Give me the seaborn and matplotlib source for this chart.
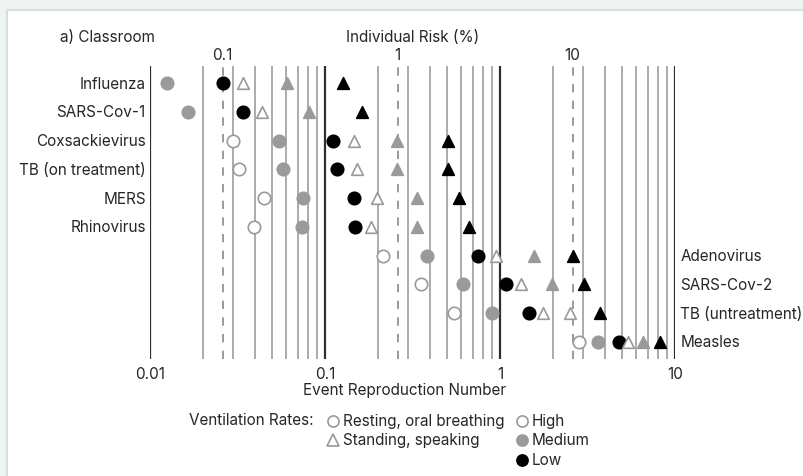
import numpy as np
import pandas as pd
import matplotlib
matplotlib.use("Agg")
import matplotlib.pyplot as plt
import seaborn as sns
from matplotlib.lines import Line2D
from matplotlib.patches import Rectangle
from matplotlib.ticker import NullLocator

sns.set_style("white")
plt.rcParams['font.family'] = ['Inter', 'DejaVu Sans']
plt.rcParams['font.size'] = 11
plt.rcParams['lines.scale_dashes'] = False

pathogens = ["Influenza", "SARS-Cov-1", "Coxsackievirus", "TB (on treatment)", "MERS",
             "Rhinovirus", "Adenovirus", "SARS-Cov-2", "TB (untreatment)", "Measles"]
left_labels = pathogens[:6]
right_labels = pathogens[6:]

# event reproduction number, resting / oral breathing (high, medium, low ventilation)
rest_high = [np.nan, np.nan, 0.0297, 0.0321, 0.0448, 0.0393, 0.215, 0.352, 0.548, 2.83]
rest_medium = [0.0125, 0.0164, 0.0548, 0.0573, 0.0746, 0.0736, 0.381, 0.617, 0.90, 3.61]
rest_low = [0.026, 0.0341, 0.1106, 0.1175, 0.1465, 0.149, 0.746, 1.08, 1.47, 4.81]
# standing / speaking
speak_high = [0.0341, 0.0435, 0.1465, 0.153, 0.199, 0.182, 0.944, 1.31, 1.75, 5.37]
speak_medium = [0.061, 0.0813, 0.258, 0.258, 0.336, 0.336, 1.57, 1.99, 2.51, 6.54]
speak_low = [0.126, 0.162, 0.507, 0.507, 0.581, 0.668, 2.63, 3.03, 3.73, 8.2]

# in the original, this medium point is drawn hollow
hollow_medium = ["TB (untreatment)"]

susceptibles = 26  # ERN = risk * susceptibles
x_ticks = [0.01, 0.1, 1, 10]
risk_ticks = [0.1, 1, 10]

gray = "#9a9a9a"
grid_gray = "#ababab"
dark = "#2e2e2e"

df = pd.DataFrame({"pathogen": pathogens, "row": np.arange(len(pathogens)),
                   "rest_high": rest_high, "rest_medium": rest_medium, "rest_low": rest_low,
                   "speak_high": speak_high, "speak_medium": speak_medium, "speak_low": speak_low})

fig = plt.figure(figsize=(8.04, 4.77), dpi=100)
fig.patch.set_facecolor("#eff4f3")
fig.add_artist(Rectangle((7 / 804, -0.1), 1.2, 1 - 11 / 477 + 0.1, transform=fig.transFigure,
                         facecolor="white", edgecolor="#cfe2de", lw=1.5, zorder=-10))

ax = fig.add_axes([150 / 804, 1 - 360 / 477, 525 / 804, 293 / 477])
ax.set_facecolor("none")
ax.set_xscale("log")
ax.set_xlim(0.01, 10)
ax.set_ylim(len(pathogens) - 0.4, -0.6)

# grid
for dec in [0.01, 0.1, 1]:
    for m in range(2, 10):
        ax.axvline(m * dec, color=grid_gray, lw=1.4, zorder=1)
for v in x_ticks:
    ax.axvline(v, color=dark, lw=1.6, zorder=1)
for r in risk_ticks:
    ax.axvline(r * susceptibles / 100, color=gray, lw=1.4, dashes=(6, 6), zorder=1)

def draw(col, marker, fill, edge, size, mask=None):
    d = df if mask is None else df[mask]
    sns.scatterplot(data=d, x=col, y="row", marker=marker, s=size, color=fill,
                    edgecolor=edge, linewidth=1.2, ax=ax, zorder=3, legend=False)

circ = 80
tri = 70
draw("rest_high", "o", "white", gray, circ)
draw("rest_medium", "o", gray, gray, circ)
draw("rest_low", "o", "black", "black", circ)
draw("speak_high", "^", "white", gray, tri)
is_hollow = df["pathogen"].isin(hollow_medium)
draw("speak_medium", "^", gray, gray, tri, ~is_hollow)
draw("speak_medium", "^", "white", gray, tri, is_hollow)
draw("speak_low", "^", "black", "black", tri)

ax.set_yticks([])
ax.set_ylabel("")
ax.set_xticks(x_ticks, labels=["0.01", "0.1", "1", "10"])
ax.xaxis.set_minor_locator(NullLocator())
ax.tick_params(axis="x", length=0, pad=5)
ax.set_xlabel("Event Reproduction Number")
ax.xaxis.set_label_coords(0.484, -0.08)
for s in ax.spines.values():
    s.set_visible(False)

sec = ax.secondary_xaxis("top", functions=(lambda x: x * 100 / susceptibles,
                                           lambda r: r * susceptibles / 100))
sec.set_xticks(risk_ticks, labels=["0.1", "1", "10"])
sec.xaxis.set_minor_locator(NullLocator())
sec.tick_params(length=0, pad=3)
sec.set_xlabel("Individual Risk (%)", labelpad=4)
for s in sec.spines.values():
    s.set_visible(False)

ytr = ax.get_yaxis_transform()
for i, name in enumerate(pathogens):
    if name in left_labels:
        ax.text(-0.008, i, name, ha="right", va="center", transform=ytr)
    else:
        ax.text(1.01, i, name, ha="left", va="center", transform=ytr)

fig.text(60 / 804, 1 - 38 / 477, "a) Classroom", va="center")

# legend
def legend_item(px, py, marker, fc, ec, label):
    fx, fy = px / 804, 1 - py / 477
    fig.add_artist(Line2D([fx], [fy], transform=fig.transFigure, marker=marker, ms=8,
                          mfc=fc, mec=ec, mew=1.2, ls="none"))
    fig.text(fx + 10 / 804, fy, label, va="center")

fig.text(189 / 804, 1 - 421 / 477, "Ventilation Rates:", va="center")
legend_item(333, 422, "o", "white", gray, "Resting, oral breathing")
legend_item(333, 441, "^", "white", gray, "Standing, speaking")
legend_item(522, 422, "o", "white", gray, "High")
legend_item(522, 441, "o", gray, gray, "Medium")
legend_item(522, 461, "o", "black", "black", "Low")

fig.savefig("out.png", dpi=100, facecolor=fig.get_facecolor())
